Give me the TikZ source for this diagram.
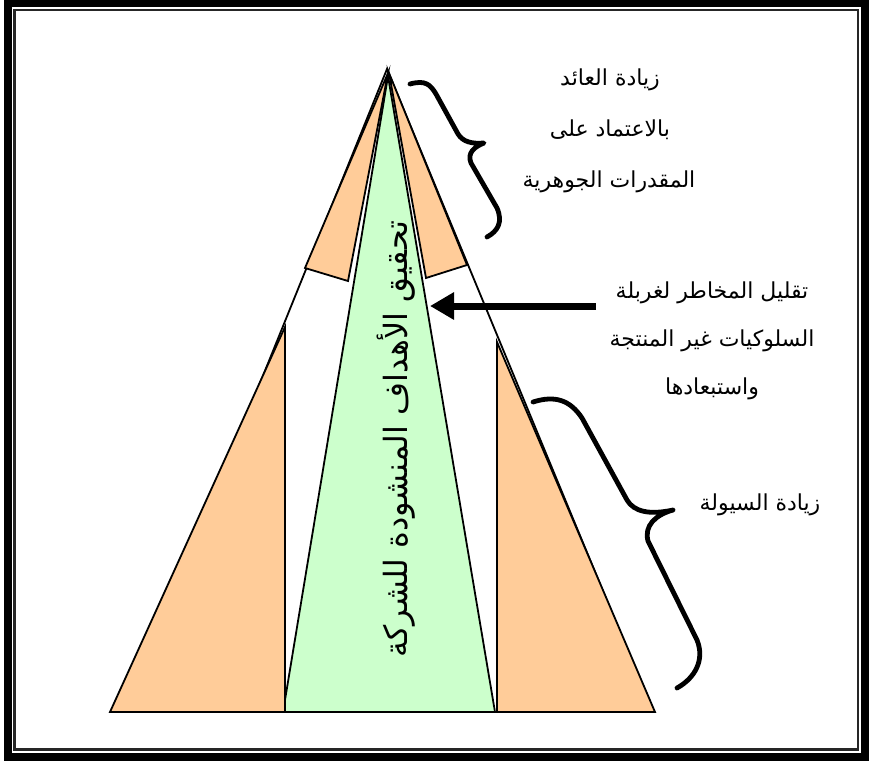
\documentclass[tikz,border=0pt]{standalone}
\usepackage{fontspec}
\usetikzlibrary{arrows.meta}
\newfontfamily\arabicfont[Script=Arabic]{DejaVu Sans}
\TeXXeTstate=1
\definecolor{peach}{HTML}{FFCC99}
\definecolor{mint}{HTML}{CCFFCC}
\begin{document}
\begin{tikzpicture}[x=0.5pt,y=-0.5pt,
  shapeline/.style={draw=black,line width=0.9pt,line join=miter},
  orangepart/.style={shapeline,fill=peach},
  greenpart/.style={shapeline,fill=mint},
  bracestyle/.style={draw=black,line width=2.4pt,line cap=round,line join=round},
  thickarrow/.style={draw=black,line width=3.5pt,-{Triangle[length=12pt,width=13pt]}},
  txt/.style={inner sep=0pt,font=\arabicfont\fontsize{11}{13}\selectfont},
  vtxt/.style={inner sep=0pt,rotate=90,font=\arabicfont\fontsize{16}{18}\selectfont}]
\useasboundingbox (0,0) rectangle (872,761);
\fill[white] (0,0) rectangle (872,761);
% frame
\draw[line width=3.85pt] (7.85,3) rectangle (865,757);
\draw[line width=1.25pt,black!85] (14.7,10.2) rectangle (858,749.3);
% outline triangle
\draw[shapeline] (387,69) -- (127,712) -- (653,712) -- cycle;
% upper orange parts
\path[orangepart] (388,73) -- (305,268) -- (348,281) -- cycle;
\path[orangepart] (389,73) -- (467,265) -- (426,278) -- cycle;
% green central triangle
\path[greenpart] (388,76) -- (283,712) -- (495,712) -- cycle;
% lower orange parts
\path[orangepart] (285,327) -- (110,712) -- (285,712) -- cycle;
\path[orangepart] (497,342) -- (497,712) -- (655,712) -- cycle;
% vertical text
\node[vtxt] (goal) at (396,439) {\beginR تحقيق الأهداف المنشودة للشركة\endR};
% braces
\draw[bracestyle] (410,84) .. controls (425,80) and (430,84) .. (436,94) -- (458,134) .. controls (463,142) and (472,144) .. (484,143) .. controls (474,147) and (467,153) .. (471,163) -- (497,208) .. controls (503,222) and (498,231) .. (487,237);
\draw[bracestyle] (533,402) .. controls (555,395) and (570,400) .. (582,418) -- (627,500) .. controls (634,512) and (650,515) .. (673,510) .. controls (655,515) and (644,526) .. (648,541) -- (697,640) .. controls (705,660) and (695,678) .. (677,688);
% arrow
\coordinate (arrowS) at (596,306);
\coordinate (arrowT) at (430,306);
\draw[thickarrow] (arrowS) -- (arrowT);
% texts
\node[txt] (a1) at (610,80) {\beginR زيادة العائد\endR};
\node[txt] (a2) at (610,130) {\beginR بالاعتماد على\endR};
\node[txt] (a3) at (609,182) {\beginR المقدرات الجوهرية\endR};
\node[txt] (b1) at (712,293) {\beginR تقليل المخاطر لغربلة\endR};
\node[txt] (b2) at (712,341) {\beginR السلوكيات غير المنتجة\endR};
\node[txt] (b3) at (712,389) {\beginR واستبعادها\endR};
\node[txt] (c1) at (760,505) {\beginR زيادة السيولة\endR};
\end{tikzpicture}
\end{document}
